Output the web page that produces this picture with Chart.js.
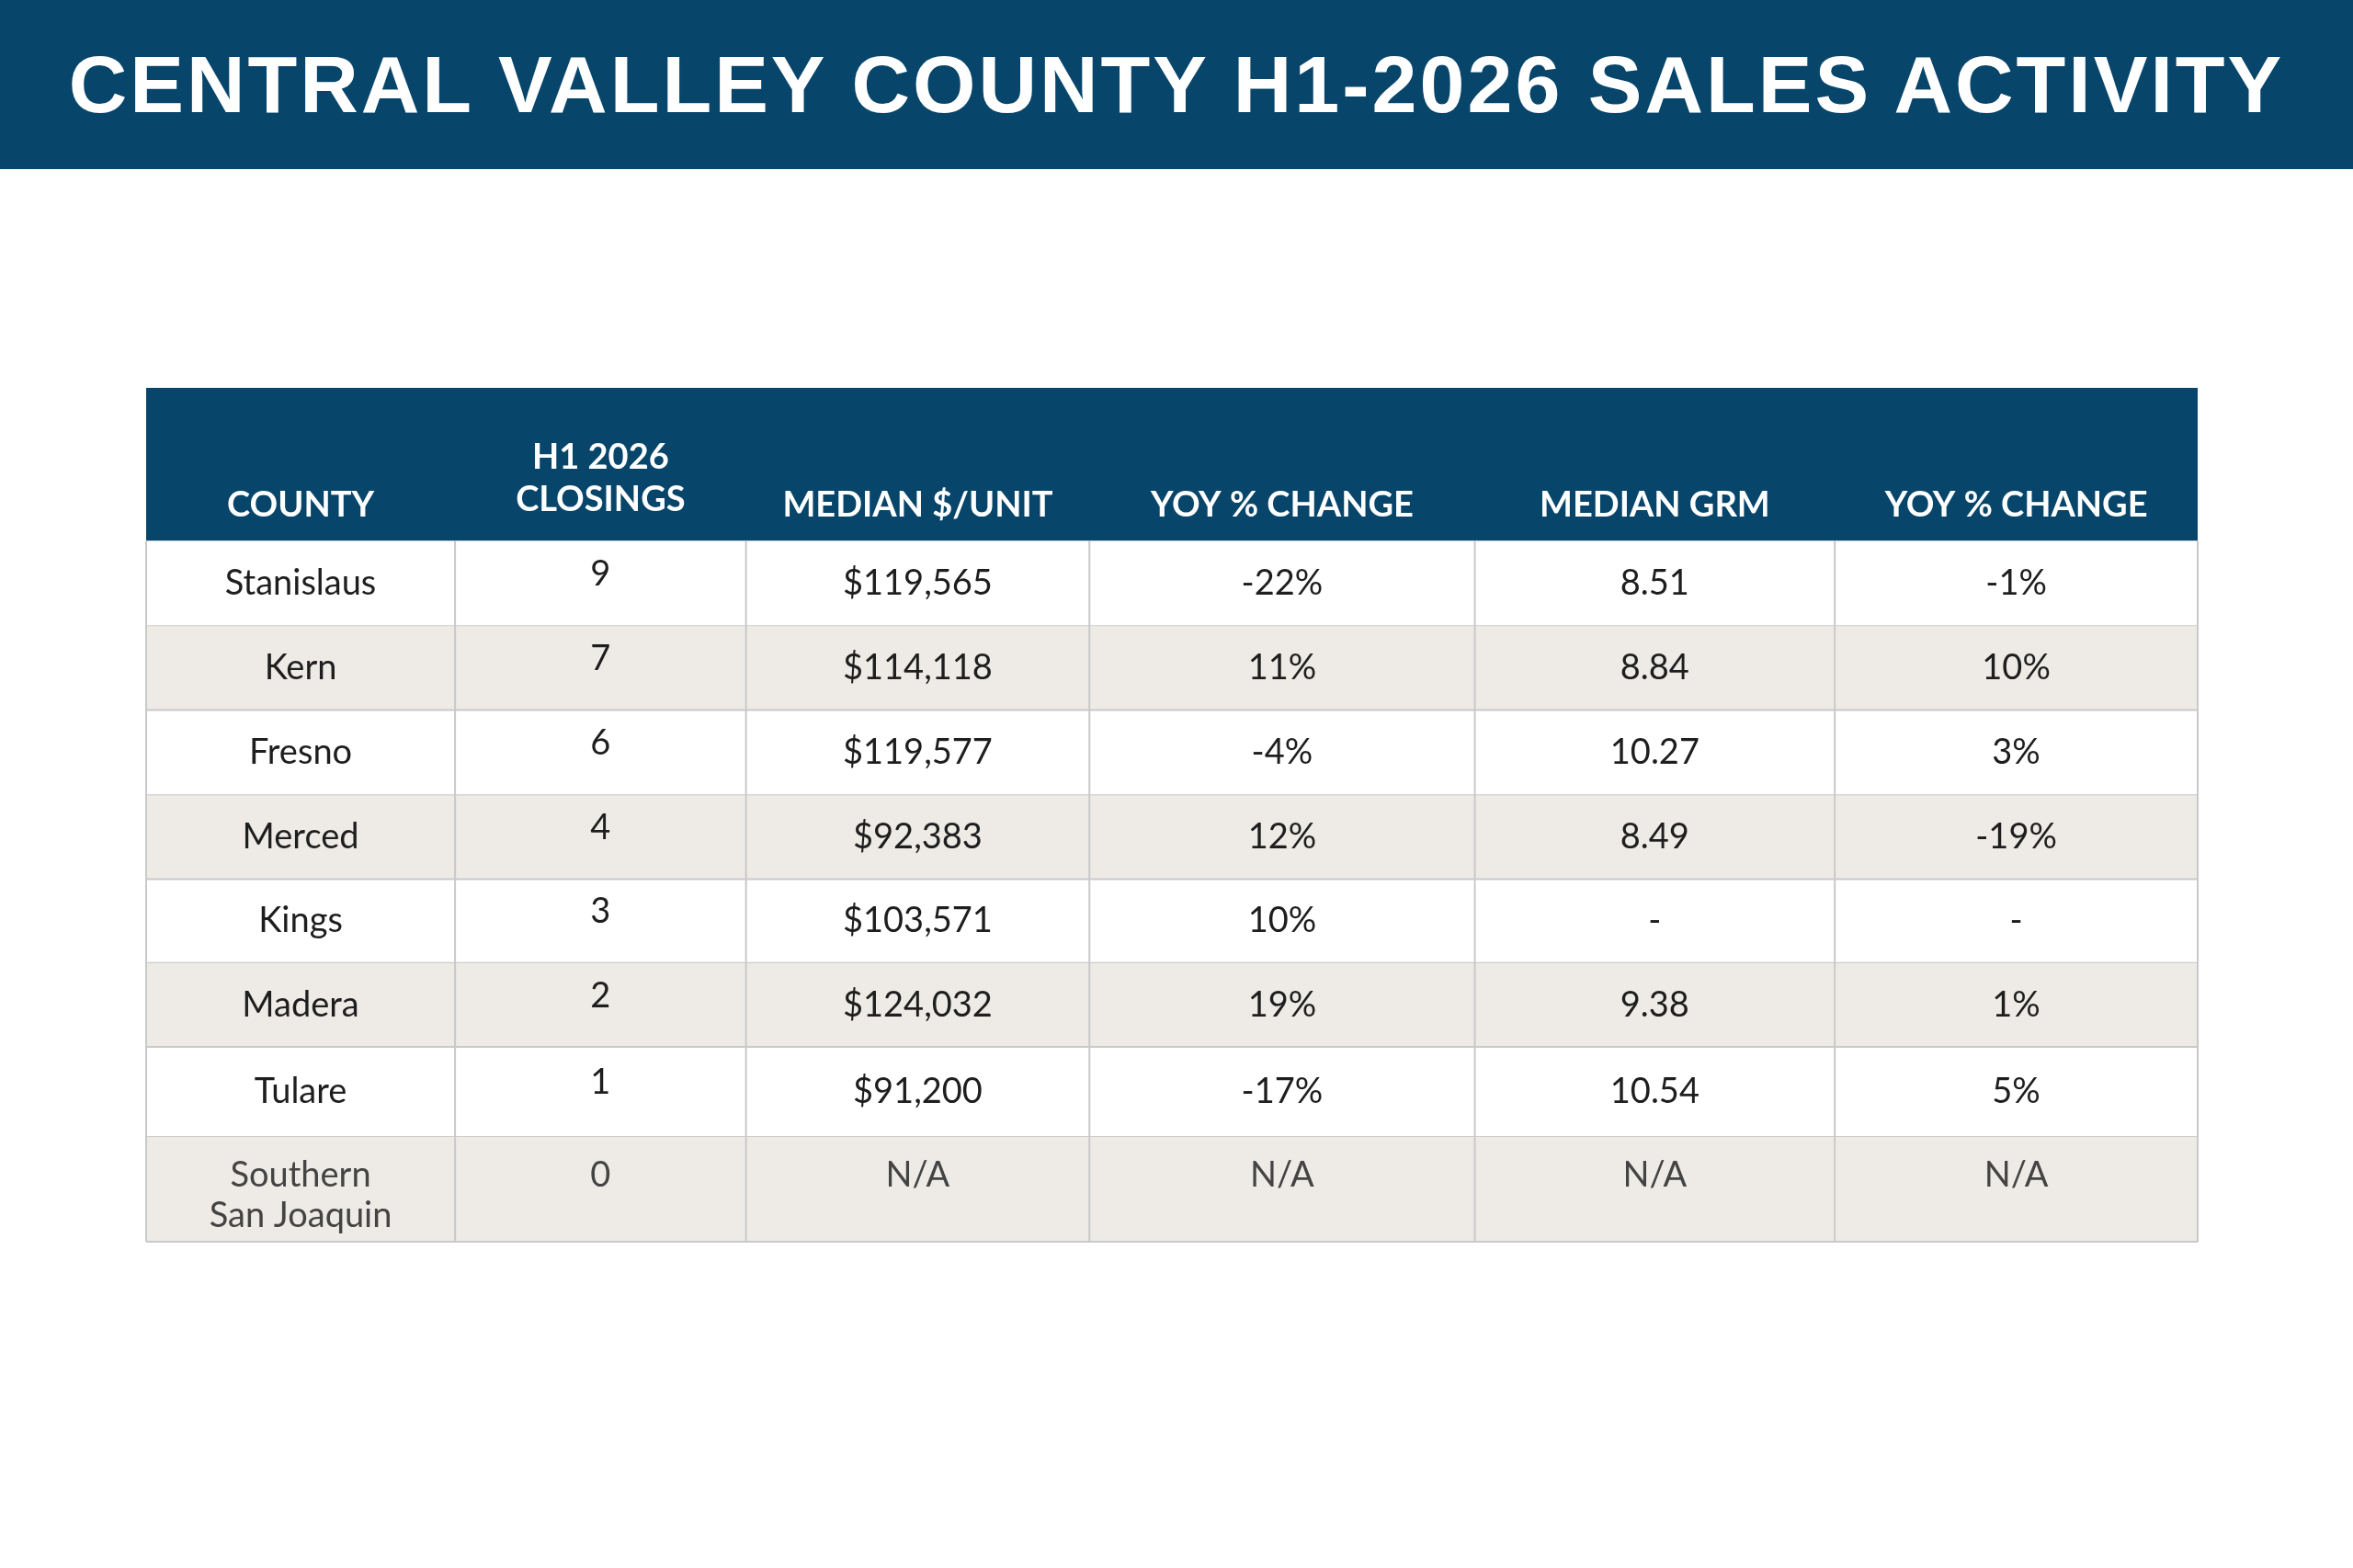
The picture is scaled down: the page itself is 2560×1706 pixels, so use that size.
<!DOCTYPE html>
<html>
<head>
<meta charset="utf-8">
<script src="https://cdn.jsdelivr.net/npm/chart.js@4.4.1/dist/chart.umd.min.js"></script>
<style>
  html, body { margin: 0; padding: 0; background: #fff; }
  body { width: 2560px; height: 1706px; position: relative; overflow: hidden; }
  .title-bar {
    position: absolute; left: 0; top: 0; width: 2560px; height: 184px;
    background: #07456a; color: #fff;
    font-family: 'Liberation Sans', Arial, sans-serif; font-weight: bold;
    font-size: 88px; letter-spacing: 3px;
    display: flex; align-items: center; justify-content: center;
  }
  .table-wrap { position: absolute; left: 158px; top: 421px; width: 2234px; height: 931px; }
</style>
</head>
<body>
<div class="title-bar">CENTRAL VALLEY COUNTY H1-2026 SALES ACTIVITY</div>
<div class="table-wrap"><canvas id="salesTable"></canvas></div>
<script>
// Data
const headers = ['COUNTY', 'H1 2026\nCLOSINGS', 'MEDIAN $/UNIT', 'YOY % CHANGE', 'MEDIAN GRM', 'YOY % CHANGE'];
const counties = ['Stanislaus', 'Kern', 'Fresno', 'Merced', 'Kings', 'Madera', 'Tulare', 'Southern\nSan Joaquin'];
const closings = [9, 7, 6, 4, 3, 2, 1, 0];
const medianPerUnit = [119565, 114118, 119577, 92383, 103571, 124032, 91200, null];
const yoyPerUnit = [-22, 11, -4, 12, 10, 19, -17, null];
const medianGrm = [8.51, 8.84, 10.27, 8.49, null, 9.38, 10.54, null];
const yoyGrm = [-1, 10, 3, -19, null, 1, 5, null];

// Layout (table units)
const colEdges = [0, 206, 400, 629, 886, 1126, 1368];
const rowEdges = [0, 102, 159, 215, 272, 328, 384, 440, 500, 570];

const NAVY = '#07456a';
const STRIPE = '#eeebe6';
const GRID = '#c9c9c9';
const TEXT = '#1e1e1e';
const FONT = "Lato, 'Open Sans', sans-serif";

function fmt(v, kind, noSales) {
  if (noSales) return 'N/A';
  if (v === null) return '-';
  if (kind === 'money') return '$' + v.toLocaleString('en-US');
  if (kind === 'pct') return v + '%';
  if (kind === 'grm') return v.toFixed(2);
  return String(v);
}

const tablePlugin = {
  id: 'tablePlugin',
  afterDraw(chart) {
    const ctx = chart.ctx;
    const x = chart.scales.x, y = chart.scales.y;
    const X = v => x.getPixelForValue(v);
    const Y = v => y.getPixelForValue(v);
    const left = X(colEdges[0]), right = X(colEdges[colEdges.length - 1]);
    ctx.save();

    // header
    ctx.fillStyle = NAVY;
    ctx.fillRect(left, Y(rowEdges[0]), right - left, Y(rowEdges[1]) - Y(rowEdges[0]));
    ctx.fillStyle = '#fff';
    ctx.font = 'bold 38px ' + FONT;
    ctx.textAlign = 'center';
    ctx.textBaseline = 'alphabetic';
    headers.forEach((h, c) => {
      const cx = (X(colEdges[c]) + X(colEdges[c + 1])) / 2;
      const lines = h.split('\n');
      const base = lines.length > 1 ? Y(54) : Y(86);
      lines.forEach((ln, i) => ctx.fillText(ln, cx, base + i * 46));
    });

    // rows
    counties.forEach((name, r) => {
      const top = Y(rowEdges[r + 1]), bot = Y(rowEdges[r + 2]);
      if (r % 2 === 1) {
        ctx.fillStyle = STRIPE;
        ctx.fillRect(left, top, right - left, bot - top);
      }
      const noSales = closings[r] === 0;
      const cells = [
        name,
        String(closings[r]),
        fmt(medianPerUnit[r], 'money', noSales),
        fmt(yoyPerUnit[r], 'pct', noSales),
        fmt(medianGrm[r], 'grm', noSales),
        fmt(yoyGrm[r], 'pct', noSales)
      ];
      ctx.font = '38px ' + FONT;
      ctx.fillStyle = noSales ? '#444' : TEXT;
      ctx.textBaseline = 'middle';
      cells.forEach((txt, c) => {
        const cx = (X(colEdges[c]) + X(colEdges[c + 1])) / 2;
        const lines = txt.split('\n');
        let cy = (top + bot) / 2;
        if (noSales) cy = top + 42;
        else if (c === 1) cy -= 10;
        lines.forEach((ln, i) => ctx.fillText(ln, cx, cy + i * 44));
      });
      // row line
      ctx.strokeStyle = GRID;
      ctx.lineWidth = 2;
      ctx.beginPath();
      ctx.moveTo(left, bot); ctx.lineTo(right, bot);
      ctx.stroke();
    });

    // vertical lines
    const bodyTop = Y(rowEdges[1]), bodyBot = Y(rowEdges[rowEdges.length - 1]);
    ctx.strokeStyle = GRID;
    ctx.lineWidth = 2;
    colEdges.forEach(e => {
      ctx.beginPath();
      ctx.moveTo(X(e), bodyTop); ctx.lineTo(X(e), bodyBot);
      ctx.stroke();
    });
    ctx.restore();
  }
};

new Chart(document.getElementById('salesTable'), {
  type: 'scatter',
  data: { datasets: [{ data: [] }] },
  plugins: [tablePlugin],
  options: {
    responsive: true,
    maintainAspectRatio: false,
    animation: false,
    devicePixelRatio: 1,
    layout: { padding: 1 },
    plugins: { legend: { display: false }, tooltip: { enabled: false } },
    scales: {
      x: { type: 'linear', display: false, min: colEdges[0], max: colEdges[colEdges.length - 1] },
      y: { type: 'linear', display: false, reverse: true, min: rowEdges[0], max: rowEdges[rowEdges.length - 1] }
    }
  }
});
</script>
</body>
</html>
